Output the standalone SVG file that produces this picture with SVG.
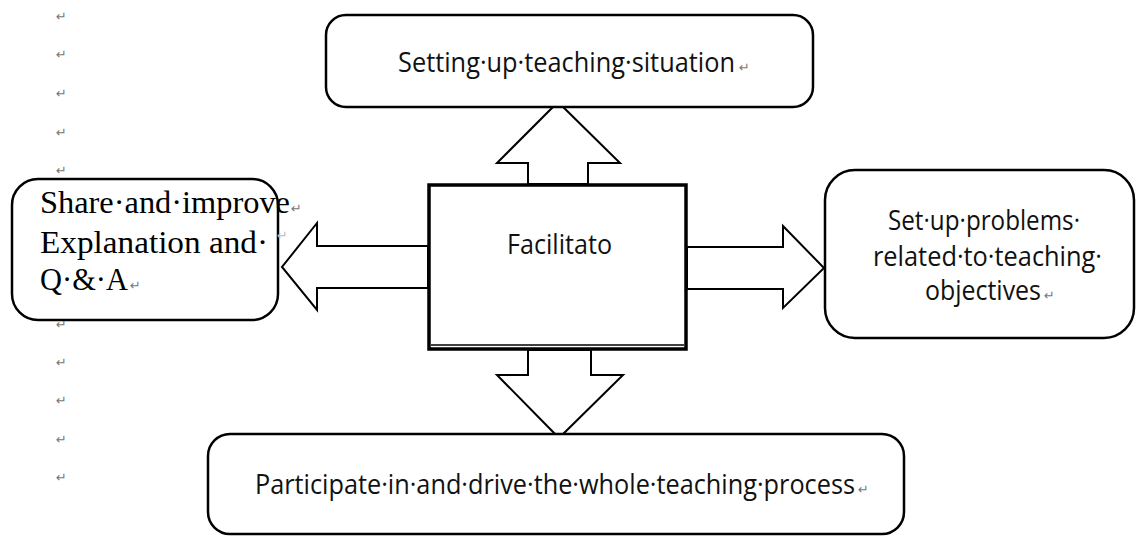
<svg xmlns="http://www.w3.org/2000/svg" width="1136" height="536" viewBox="0 0 1136 536">
<style>
.box{fill:#fff;stroke:#000;stroke-width:2.5}
.arr{fill:#fff;stroke:#000;stroke-width:2;stroke-linejoin:miter}
.t{font-family:"Open Sans","Liberation Sans",sans-serif;font-size:27px;fill:#111}
.s{font-family:"Liberation Serif","Times New Roman",serif;font-size:31px;fill:#000}
.pm{font-family:"DejaVu Sans",sans-serif;font-size:13px;fill:#777}
</style>
<rect width="1136" height="536" fill="#fff"/>
<g id="marks">
<text class="pm" x="56" y="21">↵</text>
<text class="pm" x="56" y="59">↵</text>
<text class="pm" x="56" y="98">↵</text>
<text class="pm" x="56" y="137">↵</text>
<text class="pm" x="56" y="175">↵</text>
<text class="pm" x="56" y="329">↵</text>
<text class="pm" x="56" y="367">↵</text>
<text class="pm" x="56" y="405">↵</text>
<text class="pm" x="56" y="444">↵</text>
<text class="pm" x="56" y="482">↵</text>
</g>
<g id="connectors">
<polygon class="arr" points="528,184 528,163 497,163 558,102 620,163 588,163 588,184"/>
<polygon class="arr" points="428,246 317,246 317,223 282,267 317,310 317,288 428,288"/>
<polygon class="arr" points="687,247 783,247 783,226 824,268 783,308 783,289 687,289"/>
<polygon class="arr" points="528,350 528,375 497,375 559,438 623,375 591,375 591,350"/>
</g>
<g id="top">
<rect class="box" x="326" y="15" width="487" height="92" rx="20"/>
<text class="t" x="398" y="72" textLength="337" lengthAdjust="spacingAndGlyphs">Setting·up·teaching·situation</text>
<text class="pm" x="739" y="72">↵</text>
</g>
<g id="left">
<rect class="box" x="12" y="179" width="266" height="141" rx="26"/>
<text class="s" x="40" y="213" textLength="250" lengthAdjust="spacingAndGlyphs">Share·and·improve</text>
<text class="pm" x="291" y="213">↵</text>
<text class="s" x="40" y="253" textLength="228" lengthAdjust="spacingAndGlyphs">Explanation and·</text>
<text class="pm" x="277" y="240" style="fill:#bbb">↵</text>
<text class="s" x="40" y="290" textLength="88" lengthAdjust="spacingAndGlyphs">Q·&amp;·A</text>
<text class="pm" x="130" y="290">↵</text>
</g>
<g id="center">
<rect x="429" y="185" width="257" height="164" fill="#fff" stroke="#000" stroke-width="3.5"/>
<line x1="431" y1="345" x2="684" y2="345" stroke="#000" stroke-width="1.5"/>
<text class="t" x="507" y="254" textLength="105" lengthAdjust="spacingAndGlyphs">Facilitato</text>
</g>
<g id="right">
<rect class="box" x="825" y="170" width="309" height="168" rx="30"/>
<text class="t" x="888" y="230" textLength="192" lengthAdjust="spacingAndGlyphs">Set·up·problems·</text>
<text class="t" x="873" y="266" textLength="229" lengthAdjust="spacingAndGlyphs">related·to·teaching·</text>
<text class="t" x="925" y="300" textLength="116" lengthAdjust="spacingAndGlyphs">objectives</text>
<text class="pm" x="1044" y="300">↵</text>
</g>
<g id="bottom">
<rect class="box" x="208" y="434" width="696" height="100" rx="22"/>
<text class="t" x="255" y="494" textLength="600" lengthAdjust="spacingAndGlyphs">Participate·in·and·drive·the·whole·teaching·process</text>
<text class="pm" x="858" y="494">↵</text>
</g>
</svg>
